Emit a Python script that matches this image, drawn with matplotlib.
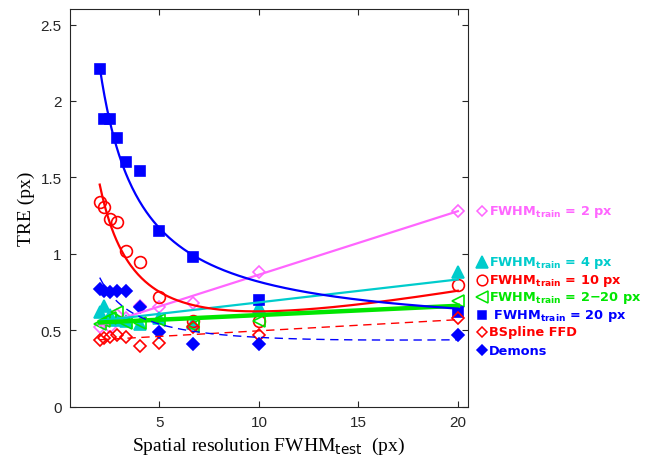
import matplotlib
matplotlib.use("Agg")
import matplotlib.pyplot as plt
import numpy as np

plt.rcParams["mathtext.default"] = "bf"

# test resolutions (px): 20/10 ... 20/1
fwhm_test = [2.0, 2.22, 2.5, 2.86, 3.33, 4.0, 5.0, 6.67, 10.0, 20.0]

tre_train2 = [0.52, 0.55, 0.52, 0.60, 0.58, 0.66, 0.65, 0.68, 0.88, 1.28]
tre_train4 = [0.62, 0.66, 0.60, 0.57, 0.56, 0.54, 0.58, 0.55, 0.65, 0.88]
tre_train10 = [1.34, 1.31, 1.23, 1.21, 1.02, 0.95, 0.72, 0.56, 0.56, 0.80]
tre_train2_20 = [0.54, 0.56, 0.58, 0.62, 0.55, 0.55, 0.57, 0.53, 0.56, 0.69]
tre_train20 = [2.21, 1.88, 1.88, 1.76, 1.60, 1.54, 1.15, 0.98, 0.70, 0.62]
tre_bspline = [0.44, 0.45, 0.46, 0.47, 0.46, 0.40, 0.42, 0.52, 0.47, 0.58]
tre_demons = [0.77, 0.76, 0.75, 0.76, 0.76, 0.65, 0.49, 0.41, 0.41, 0.47]

labels = [
    r"FWHM$_{\mathbf{train}}$ = 2 px",
    r"FWHM$_{\mathbf{train}}$ = 4 px",
    r"FWHM$_{\mathbf{train}}$ = 10 px",
    r"FWHM$_{\mathbf{train}}$ = 2$-$20 px",
    r" FWHM$_{\mathbf{train}}$ = 20 px",
    "BSpline FFD",
    "Demons",
]
label_y = [1.28, 0.95, 0.83, 0.72, 0.60, 0.49, 0.37]


def basis(x, model):
    x = np.asarray(x, dtype=float)
    cols = [np.ones_like(x)]
    if "inv" in model:
        cols.append(1.0 / x)
    if "lin" in model:
        cols.append(x)
    return np.column_stack(cols)


def fit_curve(x, y, model, xs):
    coef, *_ = np.linalg.lstsq(basis(x, model), np.asarray(y), rcond=None)
    return basis(xs, model) @ coef


series = [
    # y, colour, marker, filled, model, line style, line width
    (tre_train2, "#ff66ff", "D", False, "lin", "-", 1.6),
    (tre_train4, "#00cccc", "^", True, "lin", "-", 1.6),
    (tre_train10, "#ff0000", "o", False, "inv lin", "-", 1.6),
    (tre_train2_20, "#00e600", "<", False, "lin", "-", 3.2),
    (tre_train20, "#0000ff", "s", True, "inv", "-", 1.6),
    (tre_bspline, "#ff0000", "D", False, "lin", (0, (6, 4)), 1.0),
    (tre_demons, "#0000ff", "D", True, "inv lin", (0, (6, 4)), 1.0),
]
marker_size = {"D": 6, "^": 9, "o": 8.5, "<": 9, "s": 7}

fig = plt.figure(figsize=(6.47, 4.64), dpi=100)
ax = fig.add_axes([0.108, 0.121, 0.615, 0.857])

xs = np.linspace(2, 20, 300)
for y, color, marker, filled, model, ls, lw in series:
    ax.plot(fwhm_test, y, linestyle="none", marker=marker,
            markersize=marker_size[marker],
            markerfacecolor=color if filled else "none",
            markeredgecolor=color, markeredgewidth=1.2, zorder=3)
for y, color, marker, filled, model, ls, lw in series:
    ax.plot(xs, fit_curve(fwhm_test, y, model, xs), color=color,
            linestyle=ls, linewidth=lw, zorder=4)

# labels to the right of the axes
for (y, color, marker, filled, model, ls, lw), text, ly in zip(series, labels, label_y):
    ax.plot([21.2], [ly], linestyle="none", marker=marker,
            markersize=marker_size[marker] * 0.9,
            markerfacecolor=color if filled else "none",
            markeredgecolor=color, markeredgewidth=1.1, clip_on=False)
    ax.text(21.55, ly, text, color=color, fontsize=9.3, fontweight="bold",
            va="center", ha="left", clip_on=False)

ax.set_xlim(0.5, 20.5)
ax.set_ylim(0, 2.6)
ax.set_xticks([5, 10, 15, 20])
ax.set_yticks([0, 0.5, 1, 1.5, 2, 2.5])
ax.set_yticklabels(["0", "0.5", "1", "1.5", "2", "2.5"])
ax.tick_params(direction="in", top=True, right=True, labeltop=False,
               labelright=False, labelsize=11, colors="#262626", length=4,
               pad=6)
for spine in ax.spines.values():
    spine.set_color("#262626")
for lab in ax.get_xticklabels() + ax.get_yticklabels():
    lab.set_family("Liberation Sans")

ax.set_ylabel("TRE (px)", family="Liberation Serif", fontsize=14)
ax.set_xlabel(r"Spatial resolution FWHM$_{\mathrm{test}}$  (px)",
              family="Liberation Serif", fontsize=14)

fig.savefig("out.png", dpi=100)
